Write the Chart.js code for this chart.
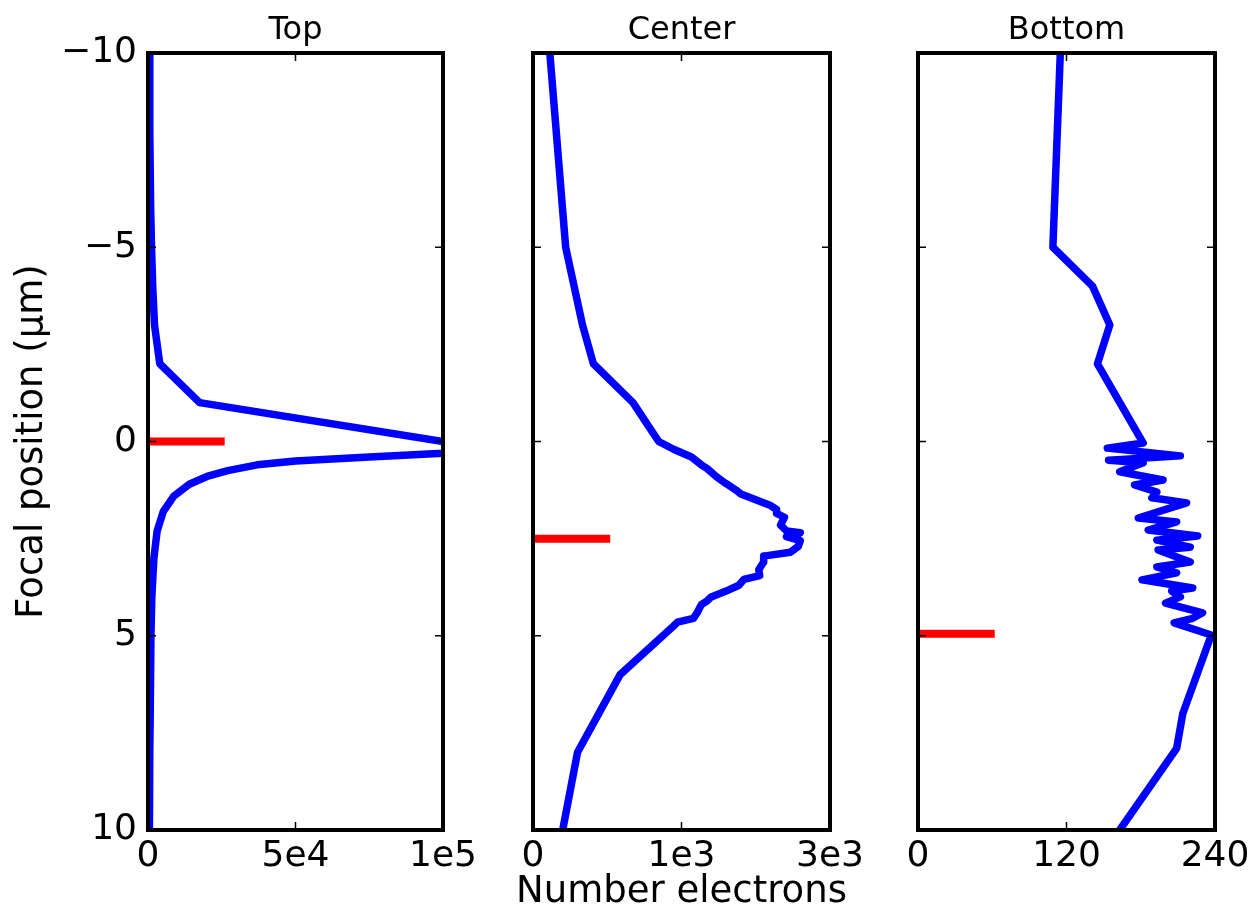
<!DOCTYPE html>
<html>
<head>
<meta charset="utf-8">
<script src="https://cdn.jsdelivr.net/npm/chart.js@4.4.0/dist/chart.umd.min.js"></script>
<style>
  html, body { margin: 0; padding: 0; background: #fff; overflow: hidden; }
  #wrap { position: relative; width: 1250px; height: 908px; overflow: hidden; }
  canvas { position: absolute; top: 0; }
</style>
</head>
<body>
<div id="wrap">
  <canvas id="c0"></canvas>
  <canvas id="c1"></canvas>
  <canvas id="c2"></canvas>
</div>
<script>
// Focal position (um) vs number of electrons, three detector regions

const yTicks = [-10, -5, 0, 5, 10];
const yTickLabels = ["\u221210", "\u22125", "0", "5", "10"];

const topDepth = [-10, -8, -6, -5, -4, -3, -2, -1, 0, 0.2, 0.3, 0.4, 0.5, 0.6, 0.75, 0.9, 1.1, 1.4, 1.8, 2.3, 3, 4, 5, 6, 7, 8, 9, 10];
const topCount = [400, 600, 900, 1200, 1600, 2200, 4000, 17500, 100000, 101500, 100000, 75000, 50000, 37000, 27000, 20000, 14000, 8800, 5200, 3100, 2000, 1300, 1000, 800, 700, 600, 500, 450];
const topTicks = [0, 50000, 100000];
const topTickLabels = ["0", "5e4", "1e5"];

const centerDepth = [-10, -5, -3, -2, -1, -0.5, 0, 0.2, 0.4, 0.6, 0.7, 0.9, 1.05, 1.1, 1.25, 1.35, 1.5, 1.65, 1.75, 1.85, 1.95, 2.05, 2.15, 2.3, 2.35, 2.45, 2.55, 2.7, 2.85, 2.95, 3.1, 3.3, 3.45, 3.55, 3.7, 3.85, 4.0, 4.1, 4.2, 4.4, 4.55, 4.65, 4.75, 6, 8, 10];
const centerCount = [170, 330, 500, 610, 1010, 1140, 1270, 1420, 1600, 1700, 1760, 1850, 1930, 1960, 2050, 2100, 2250, 2400, 2460, 2460, 2540, 2520, 2500, 2560, 2700, 2560, 2700, 2680, 2600, 2330, 2330, 2280, 2290, 2130, 2080, 1950, 1800, 1760, 1700, 1660, 1620, 1460, 1420, 880, 450, 300];
const centerTicks = [0, 1500, 3000];
const centerTickLabels = ["0", "1e3", "3e3"];

const bottomDepth = [-10, -5, -4, -3, -2, 0.04, 0.17, 0.37, 0.48, 0.55, 0.78, 0.99, 1.12, 1.3, 1.45, 1.58, 1.97, 2.07, 2.28, 2.43, 2.54, 2.72, 2.79, 3.1, 3.23, 3.38, 3.56, 3.77, 3.85, 4.0, 4.16, 4.41, 4.55, 4.67, 4.98, 7, 7.9, 10];
const bottomCount = [115, 109, 141, 155, 145, 182, 153, 212, 154, 182, 163, 198, 175, 193, 189, 217, 178, 209, 186, 226, 193, 220, 194, 220, 193, 209, 181, 222, 205, 212, 200, 230, 222, 207, 237, 214, 209, 163];
const bottomTicks = [0, 120, 240];
const bottomTickLabels = ["0", "120", "240"];

// red markers: depth and length
const markDepth = [0, 2.5, 4.95];
const markLength = [26000, 780, 62];

const FONT = "'DejaVu Sans', sans-serif";
const SIDE_W = 148, CANVAS_H = 915, XAXIS_H = 85, XTITLE_H = 44.4;

const panels = [
  { id: "c0", plotLeft: 148, plotW: 295, title: "Top", depth: topDepth, count: topCount, max: 100000, ticks: topTicks, labels: topTickLabels },
  { id: "c1", plotLeft: 533, plotW: 297, title: "Center", depth: centerDepth, count: centerCount, max: 3000, ticks: centerTicks, labels: centerTickLabels },
  { id: "c2", plotLeft: 918, plotW: 297, title: "Bottom", depth: bottomDepth, count: bottomCount, max: 240, ticks: bottomTicks, labels: bottomTickLabels }
];

// inside tick marks on all four sides + thick frame
const framePlugin = {
  id: "frame",
  afterDraw(chart) {
    const { ctx, chartArea: a, scales: { x, y } } = chart;
    const xt = chart.options.plugins.frame.xTicks;
    ctx.save();
    ctx.strokeStyle = "#000";
    ctx.lineWidth = 1.5;
    ctx.beginPath();
    xt.forEach(v => {
      const px = x.getPixelForValue(v);
      ctx.moveTo(px, a.bottom); ctx.lineTo(px, a.bottom - 8);
      ctx.moveTo(px, a.top); ctx.lineTo(px, a.top + 8);
    });
    yTicks.forEach(v => {
      const py = y.getPixelForValue(v);
      ctx.moveTo(a.left, py); ctx.lineTo(a.left + 8, py);
      ctx.moveTo(a.right, py); ctx.lineTo(a.right - 8, py);
    });
    ctx.stroke();
    ctx.lineWidth = 4;
    ctx.strokeRect(a.left, a.top, a.right - a.left, a.bottom - a.top);
    ctx.restore();
  }
};

panels.forEach((p, i) => {
  const canvas = document.getElementById(p.id);
  canvas.width = SIDE_W + p.plotW + SIDE_W;
  canvas.height = CANVAS_H;
  canvas.style.left = (p.plotLeft - SIDE_W) + "px";

  const line = p.depth.map((d, k) => ({ x: p.count[k], y: d }));
  const mark = [{ x: 0, y: markDepth[i] }, { x: markLength[i], y: markDepth[i] }];
  const hasXTitle = i === 1;

  new Chart(canvas, {
    type: "line",
    data: {
      datasets: [
        { data: line, borderColor: "#0000ff", borderWidth: 7.5, pointRadius: 0, fill: false, tension: 0, borderJoinStyle: "round" },
        { data: mark, borderColor: "#ff0000", borderWidth: 8, pointRadius: 0, fill: false, borderCapStyle: "butt" }
      ]
    },
    options: {
      responsive: false,
      animation: false,
      events: [],
      layout: { padding: 0 },
      plugins: {
        legend: { display: false },
        tooltip: { enabled: false },
        title: {
          display: true, text: p.title, color: "#000",
          font: { family: FONT, size: 32, weight: "normal" },
          padding: { top: 11, bottom: 3.6 }
        },
        subtitle: {
          display: hasXTitle, position: "bottom", text: "Number electrons", color: "#000",
          font: { family: FONT, size: 37, weight: "normal" },
          padding: { top: 0, bottom: 0 }
        },
        frame: { xTicks: p.ticks }
      },
      scales: {
        x: {
          type: "linear", min: 0, max: p.max,
          grid: { display: false, drawTicks: false },
          border: { display: false },
          ticks: {
            color: "#000", font: { family: FONT, size: 36 }, padding: 5,
            maxRotation: 0, autoSkip: false,
            callback: (v, idx) => p.labels[idx]
          },
          afterBuildTicks: s => { s.ticks = p.ticks.map(v => ({ value: v })); },
          afterFit: s => {
            s.height = hasXTitle ? XAXIS_H - XTITLE_H : XAXIS_H;
            s.paddingLeft = 0; s.paddingRight = 0;
          }
        },
        y: {
          type: "linear", min: -10, max: 10, reverse: true,
          grid: { display: false, drawTicks: false },
          border: { display: false },
          ticks: {
            display: i === 0, color: "#000", font: { family: FONT, size: 36 }, padding: 11,
            autoSkip: false,
            callback: (v, idx) => yTickLabels[idx]
          },
          title: {
            display: i === 0, text: "Focal position (\u03bcm)", color: "#000",
            font: { family: FONT, size: 37 }, padding: { top: 10, bottom: 0 }
          },
          afterBuildTicks: s => { s.ticks = yTicks.map(v => ({ value: v })); },
          afterFit: s => { s.width = SIDE_W; s.paddingTop = 0; s.paddingBottom = 0; }
        },
        // empty right-hand box so the panel title centres over the plot
        yRight: {
          type: "linear", position: "right", min: -10, max: 10,
          grid: { display: false, drawTicks: false },
          border: { display: false },
          ticks: { display: false },
          afterFit: s => { s.width = SIDE_W; s.paddingTop = 0; s.paddingBottom = 0; }
        }
      }
    },
    plugins: [framePlugin]
  });
});
</script>
</body>
</html>
